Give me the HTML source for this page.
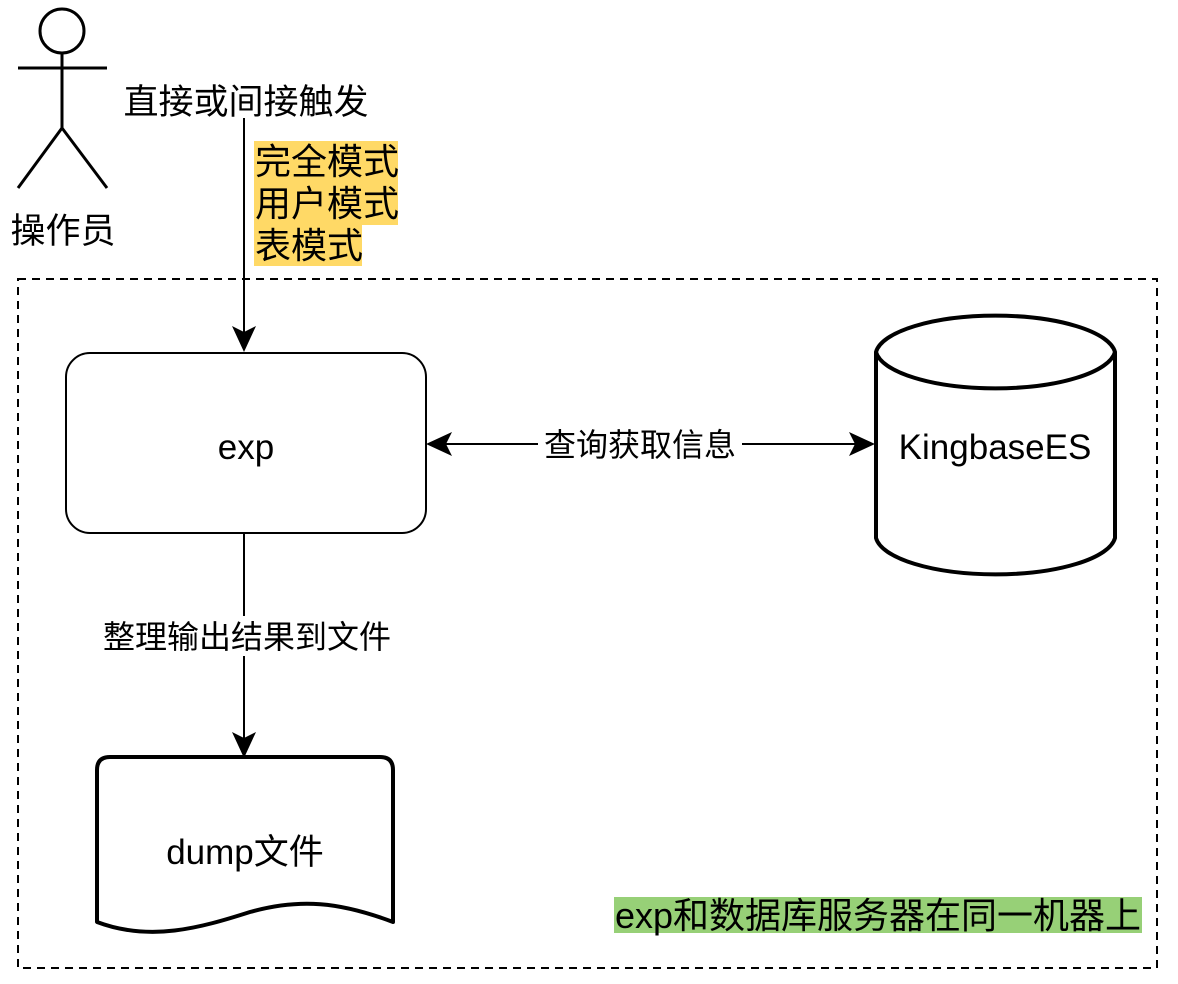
<!DOCTYPE html>
<html><head><meta charset="utf-8"><style>
body{margin:0;background:#fff}
svg text{font-family:"Liberation Sans","Noto Sans CJK SC",sans-serif;fill:#000}
</style></head><body>
<svg width="1178" height="979" viewBox="0 0 1178 979" xmlns="http://www.w3.org/2000/svg">
<rect x="0" y="0" width="1178" height="979" fill="#fff"/>
<g stroke="#000" stroke-width="3" fill="none">
<circle cx="62" cy="31" r="22"/>
<line x1="62" y1="53" x2="62" y2="128"/>
<line x1="18" y1="68" x2="107" y2="68"/>
<line x1="62" y1="128" x2="18" y2="188"/>
<line x1="62" y1="128" x2="107" y2="188"/>
</g>
<text x="63" y="243" font-size="35" text-anchor="middle">操作员</text>
<rect x="18" y="279" width="1139" height="689" fill="none" stroke="#000" stroke-width="2" stroke-dasharray="8,6"/>
<text x="246" y="114" font-size="35" text-anchor="middle">直接或间接触发</text>
<line x1="244" y1="118" x2="244" y2="340" stroke="#000" stroke-width="2"/>
<polygon points="232,326 244,352 256,326 244,332" fill="#000"/>
<rect x="254" y="141" width="144" height="42" fill="#ffd966"/>
<rect x="254" y="183" width="144" height="42" fill="#ffd966"/>
<rect x="254" y="225" width="108" height="41" fill="#ffd966"/>
<text x="255" y="174" font-size="36">完全模式</text>
<text x="255" y="216" font-size="36">用户模式</text>
<text x="255" y="258" font-size="36">表模式</text>
<rect x="66" y="353" width="360" height="180" rx="24" fill="#fff" stroke="#000" stroke-width="2"/>
<text x="246" y="459" font-size="35" text-anchor="middle">exp</text>
<path d="M876,352 A120,40 0 0 1 1115,352 L1115,538 A120,40 0 0 1 876,538 Z" fill="#fff" stroke="#000" stroke-width="4"/>
<path d="M876,352 A120,40 0 0 0 1115,352" fill="none" stroke="#000" stroke-width="4"/>
<text x="995" y="459" font-size="35" text-anchor="middle">KingbaseES</text>
<line x1="440" y1="444" x2="862" y2="444" stroke="#000" stroke-width="2"/>
<polygon points="426,444 452,432 446,444 452,456" fill="#000"/>
<polygon points="875,444 849,432 855,444 849,456" fill="#000"/>
<rect x="538" y="424" width="204" height="40" fill="#fff"/>
<text x="640" y="456" font-size="32" text-anchor="middle">查询获取信息</text>
<line x1="244" y1="533" x2="244" y2="745" stroke="#000" stroke-width="2"/>
<polygon points="232,732 244,758 256,732 244,738" fill="#000"/>
<rect x="96" y="616" width="302" height="40" fill="#fff"/>
<text x="247" y="648" font-size="32" text-anchor="middle">整理输出结果到文件</text>
<path d="M97,922 L97,770 Q97,757 110,757 L380,757 Q393,757 393,770 L393,922 C340,902 300,898 250,912 C200,928 150,942 97,922 Z" fill="#fff" stroke="#000" stroke-width="4" stroke-linejoin="round"/>
<text x="245" y="864" font-size="35" text-anchor="middle">dump文件</text>
<rect x="614" y="897" width="528" height="36" fill="#97d077"/>
<text x="878" y="928" font-size="36" text-anchor="middle">exp和数据库服务器在同一机器上</text>
</svg>
</body></html>
